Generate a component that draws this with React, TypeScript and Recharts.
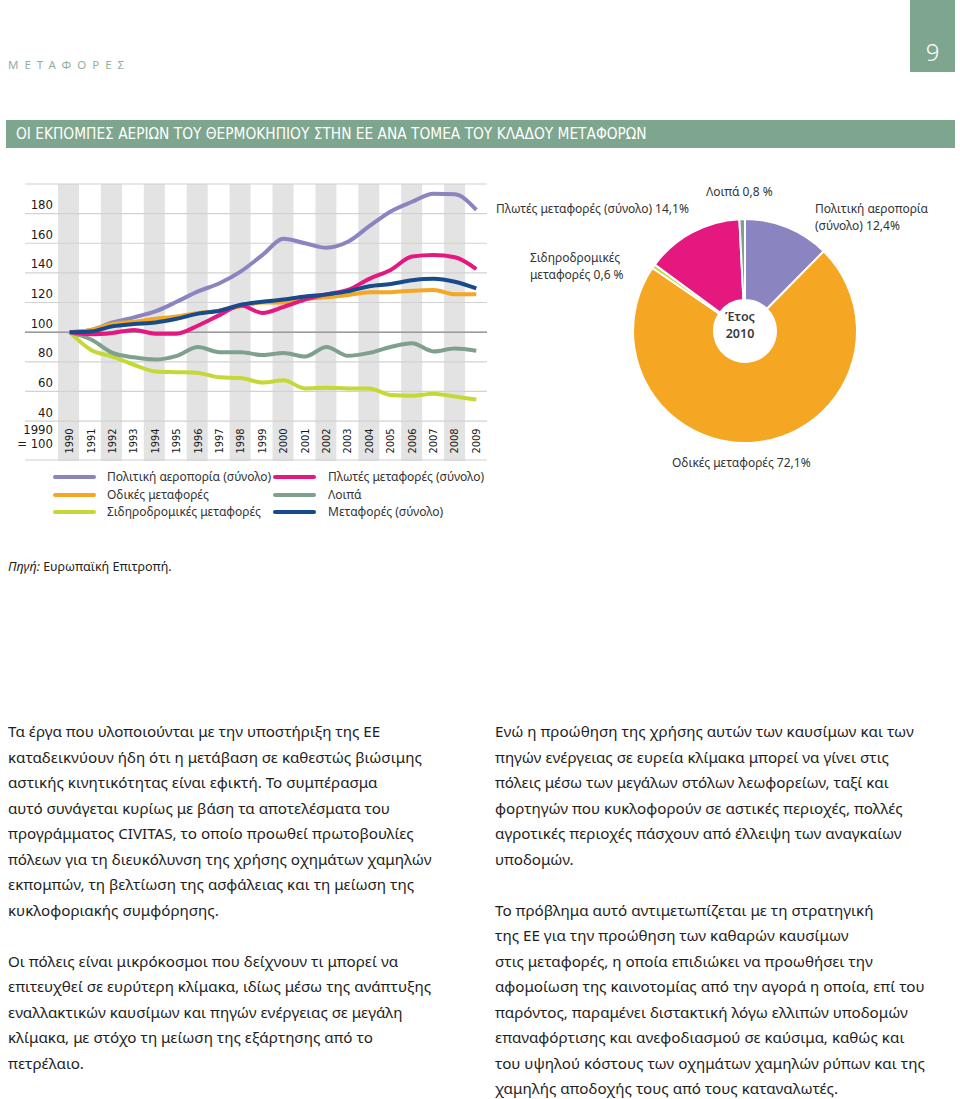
import React from 'react';
import { LineChart, Line, BarChart, Bar, XAxis, YAxis, CartesianGrid, ReferenceLine, PieChart, Pie, Cell } from 'recharts';

// Έτη (1990 = 100)
const years = ['1990', '1991', '1992', '1993', '1994', '1995', '1996', '1997', '1998', '1999',
  '2000', '2001', '2002', '2003', '2004', '2005', '2006', '2007', '2008', '2009'];

const aviation = [100, 101.5, 106.5, 110, 114, 120.5, 127.5, 133, 141, 152, 163, 160, 157, 161, 171.5, 181.5, 188, 193.5, 193, 182.5];
const road = [100, 101.5, 105.5, 107, 109, 110.5, 113, 114.5, 117.5, 120, 120, 122.5, 123.5, 125, 127, 127, 128, 128.5, 125.5, 125.5];
const rail = [100, 88, 83.5, 78, 73.5, 73, 72.5, 69.5, 69, 66, 67.5, 62, 62.5, 62, 62, 57.5, 57, 58.5, 56.5, 54.5];
const maritime = [100, 98.5, 99.5, 101.5, 99, 99, 104.5, 111.5, 118, 113, 117, 122, 125.5, 128.5, 136, 142, 151, 152, 150.5, 142.5];
const other = [100, 95, 86, 83, 81.5, 84, 90, 86.5, 86.5, 84.5, 86, 83.5, 90, 84, 86, 90, 92.5, 87, 89, 87.5];
const total = [100, 100.5, 104, 105.5, 106.5, 109, 112.5, 114.5, 118.5, 120.5, 122, 124, 125.5, 127.5, 131, 132.5, 135, 136, 134, 129.5];

const yTicks = [40, 60, 80, 100, 120, 140, 160, 180, 200];

// Μερίδιο 2010 (%)
const pieNames = ['Πολιτική αεροπορία (σύνολο)', 'Οδικές μεταφορές', 'Σιδηροδρομικές μεταφορές', 'Πλωτές μεταφορές (σύνολο)', 'Λοιπά'];
const pieValues = [12.4, 72.1, 0.6, 14.1, 0.8];

const C = {
  aviation: '#8a84c1',
  road: '#f5a623',
  rail: '#c5d835',
  maritime: '#e5187f',
  other: '#7ea08c',
  total: '#184b8c',
};
const pieColors = [C.aviation, C.road, C.rail, C.maritime, C.other];
const green = '#7ea68e';

const rows = years.map((y, i) => ({
  year: y,
  stripe: i % 2 === 0 ? 200 : null,
  aviation: aviation[i],
  road: road[i],
  rail: rail[i],
  maritime: maritime[i],
  other: other[i],
  total: total[i],
}));
const pieData = pieNames.map((name, i) => ({ name, value: pieValues[i] }));

const legendLeft = [
  { label: 'Πολιτική αεροπορία (σύνολο)', color: C.aviation },
  { label: 'Οδικές μεταφορές', color: C.road },
  { label: 'Σιδηροδρομικές μεταφορές', color: C.rail },
];
const legendRight = [
  { label: 'Πλωτές μεταφορές (σύνολο)', color: C.maritime },
  { label: 'Λοιπά', color: C.other },
  { label: 'Μεταφορές (σύνολο)', color: C.total },
];

const leftText = [
  'Τα έργα που υλοποιούνται με την υποστήριξη της ΕΕ',
  'καταδεικνύουν ήδη ότι η μετάβαση σε καθεστώς βιώσιμης',
  'αστικής κινητικότητας είναι εφικτή. Το συμπέρασμα',
  'αυτό συνάγεται κυρίως με βάση τα αποτελέσματα του',
  'προγράμματος CIVITAS, το οποίο προωθεί πρωτοβουλίες',
  'πόλεων για τη διευκόλυνση της χρήσης οχημάτων χαμηλών',
  'εκπομπών, τη βελτίωση της ασφάλειας και τη μείωση της',
  'κυκλοφοριακής συμφόρησης.',
  '',
  'Οι πόλεις είναι μικρόκοσμοι που δείχνουν τι μπορεί να',
  'επιτευχθεί σε ευρύτερη κλίμακα, ιδίως μέσω της ανάπτυξης',
  'εναλλακτικών καυσίμων και πηγών ενέργειας σε μεγάλη',
  'κλίμακα, με στόχο τη μείωση της εξάρτησης από το',
  'πετρέλαιο.',
];
const rightText = [
  'Ενώ η προώθηση της χρήσης αυτών των καυσίμων και των',
  'πηγών ενέργειας σε ευρεία κλίμακα μπορεί να γίνει στις',
  'πόλεις μέσω των μεγάλων στόλων λεωφορείων, ταξί και',
  'φορτηγών που κυκλοφορούν σε αστικές περιοχές, πολλές',
  'αγροτικές περιοχές πάσχουν από έλλειψη των αναγκαίων',
  'υποδομών.',
  '',
  'Το πρόβλημα αυτό αντιμετωπίζεται με τη στρατηγική',
  'της ΕΕ για την προώθηση των καθαρών καυσίμων',
  'στις μεταφορές, η οποία επιδιώκει να προωθήσει την',
  'αφομοίωση της καινοτομίας από την αγορά η οποία, επί του',
  'παρόντος, παραμένει διστακτική λόγω ελλιπών υποδομών',
  'επαναφόρτισης και ανεφοδιασμού σε καύσιμα, καθώς και',
  'του υψηλού κόστους των οχημάτων χαμηλών ρύπων και της',
  'χαμηλής αποδοχής τους από τους καταναλωτές.',
];

const axisFont = '"DejaVu Sans Condensed", "DejaVu Sans", sans-serif';
const chartMargin = { top: 14, right: 13, bottom: 9, left: 24 };

const renderYTick = (props: any) => {
  const { x, y, payload } = props;
  if (payload.value === 200) return <g />;
  return (
    <text x={x + 28} y={y - 9} textAnchor="end" dominantBaseline="central" fontSize={13} fill="#1a1a1a" fontFamily={axisFont}>
      {payload.value}
    </text>
  );
};

const renderXTick = (props: any) => {
  const { x, y, payload } = props;
  return (
    <text transform={`translate(${x},${y - 19}) rotate(-90)`} textAnchor="middle" dominantBaseline="central" fontSize={11} fill="#1a1a1a" fontFamily={axisFont}>
      {payload.value}
    </text>
  );
};

const abs = (left: number, top: number, extra: React.CSSProperties = {}): React.CSSProperties => ({
  position: 'absolute', left, top, whiteSpace: 'nowrap', ...extra,
});

export default function App() {
  return (
    <div style={{ position: 'absolute', left: 0, top: 0, width: 960, height: 1099, background: '#fff', fontFamily: '"Noto Sans", sans-serif', color: '#222', overflow: 'hidden' }}>
      {/* κεφαλίδα */}
      <div style={abs(8, 57, { fontSize: 11.5, letterSpacing: 6, color: '#8fb29d' })}>ΜΕΤΑΦΟΡΕΣ</div>
      <div style={abs(910, 0, { width: 45, height: 72, background: green })}>
        <div style={{ position: 'absolute', left: 0, top: 36, width: 45, textAlign: 'center', color: '#fff', fontSize: 24, lineHeight: '32px', fontWeight: 300 }}>9</div>
      </div>
      <div style={abs(6, 120, { width: 949, height: 28, background: green })}>
        <div style={{ position: 'absolute', left: 10, top: 0, lineHeight: '28px', color: '#fff', fontSize: 15.3, fontFamily: axisFont }}>
          ΟΙ ΕΚΠΟΜΠΕΣ ΑΕΡΙΩΝ ΤΟΥ ΘΕΡΜΟΚΗΠΙΟΥ ΣΤΗΝ ΕΕ ΑΝΑ ΤΟΜΕΑ ΤΟΥ ΚΛΑΔΟΥ ΜΕΤΑΦΟΡΩΝ
        </div>
      </div>

      {/* λωρίδες φόντου */}
      <div style={abs(0, 170)}>
        <BarChart width={500} height={300} data={rows} margin={chartMargin} barCategoryGap={0} barGap={0}>
          <XAxis dataKey="year" hide padding={{ left: 34, right: 0 }} />
          <YAxis hide domain={[13.7, 200]} type="number" />
          <Bar dataKey="stripe" fill="#e3e3e3" isAnimationActive={false} />
        </BarChart>
      </div>

      {/* γραμμές */}
      <div style={abs(0, 170)}>
        <LineChart width={500} height={300} data={rows} margin={chartMargin}>
          <CartesianGrid vertical={false} stroke="#d2d2d2" strokeWidth={1.2} />
          <XAxis dataKey="year" scale="band" padding={{ left: 34, right: 0 }} height={1} tickSize={0} tickMargin={0}
            axisLine={false} tickLine={false} interval={0} tick={renderXTick} />
          <YAxis domain={[13.7, 200]} type="number" ticks={yTicks} width={1} tickSize={0} tickMargin={0}
            axisLine={false} tickLine={false} tick={renderYTick} interval={0} />
          <ReferenceLine y={100} stroke="#9a9a9a" strokeWidth={1.5} />
          <Line type="monotone" dataKey="aviation" stroke={C.aviation} strokeWidth={4} dot={false} isAnimationActive={false} />
          <Line type="monotone" dataKey="road" stroke={C.road} strokeWidth={4} dot={false} isAnimationActive={false} />
          <Line type="monotone" dataKey="rail" stroke={C.rail} strokeWidth={4} dot={false} isAnimationActive={false} />
          <Line type="monotone" dataKey="other" stroke={C.other} strokeWidth={4} dot={false} isAnimationActive={false} />
          <Line type="monotone" dataKey="maritime" stroke={C.maritime} strokeWidth={4} dot={false} isAnimationActive={false} />
          <Line type="monotone" dataKey="total" stroke={C.total} strokeWidth={4} dot={false} isAnimationActive={false} />
        </LineChart>
      </div>
      <div style={abs(0, 423, { width: 53, textAlign: 'right', fontSize: 13, lineHeight: '14px', fontFamily: axisFont, color: '#1a1a1a' })}>
        1990<br />= 100
      </div>

      {/* υπόμνημα */}
      {[legendLeft, legendRight].map((col, ci) =>
        col.map((item, i) => (
          <div key={`${ci}-${i}`}>
            <div style={abs(ci === 0 ? 53 : 273, 475 + i * 17.5, { width: 43, height: 4, borderRadius: 2, background: item.color })} />
            <div style={abs(ci === 0 ? 107 : 328, 467 + i * 17.5, { fontSize: 12, lineHeight: '20px', color: '#333' })}>{item.label}</div>
          </div>
        ))
      )}

      <div style={abs(8, 558, { fontSize: 12.5, lineHeight: '18px' })}>
        <i>Πηγή:</i> Ευρωπαϊκή Επιτροπή.
      </div>

      {/* πίτα */}
      <div style={abs(600, 200)}>
        <PieChart width={280} height={260}>
          <Pie data={pieData} dataKey="value" nameKey="name" cx={140} cy={126} innerRadius={31} outerRadius={112}
            startAngle={90} endAngle={-270} stroke="#fff" strokeWidth={2} isAnimationActive={false}>
            {pieData.map((d, i) => <Cell key={d.name} fill={pieColors[i]} />)}
          </Pie>
        </PieChart>
      </div>
      <div style={abs(700, 308, { width: 80, textAlign: 'center', fontSize: 12.5, lineHeight: '17px', color: '#3a3a3a', fontWeight: 600 })}>
        <div>Έτος</div>
        <div>2010</div>
      </div>
      <div style={abs(496, 200, { fontSize: 12, color: '#333' })}>Πλωτές μεταφορές (σύνολο) 14,1%</div>
      <div style={abs(706, 183, { fontSize: 12, color: '#333' })}>Λοιπά 0,8 %</div>
      <div style={abs(815, 200, { fontSize: 12, lineHeight: '17px', color: '#333' })}>Πολιτική αεροπορία<br />(σύνολο) 12,4%</div>
      <div style={abs(530, 249, { fontSize: 12, lineHeight: '17px', color: '#333' })}>Σιδηροδρομικές<br />μεταφορές 0,6 %</div>
      <div style={abs(672, 454, { fontSize: 12, color: '#333' })}>Οδικές μεταφορές 72,1%</div>

      {/* κείμενο */}
      {[leftText, rightText].map((lines, ci) => (
        <div key={ci} style={abs(ci === 0 ? 8 : 495, 719, { fontSize: 15.2, lineHeight: '25.5px', color: '#1e1e1e' })}>
          {lines.map((l, i) => <div key={i} style={{ height: 25.5 }}>{l}</div>)}
        </div>
      ))}
    </div>
  );
}
